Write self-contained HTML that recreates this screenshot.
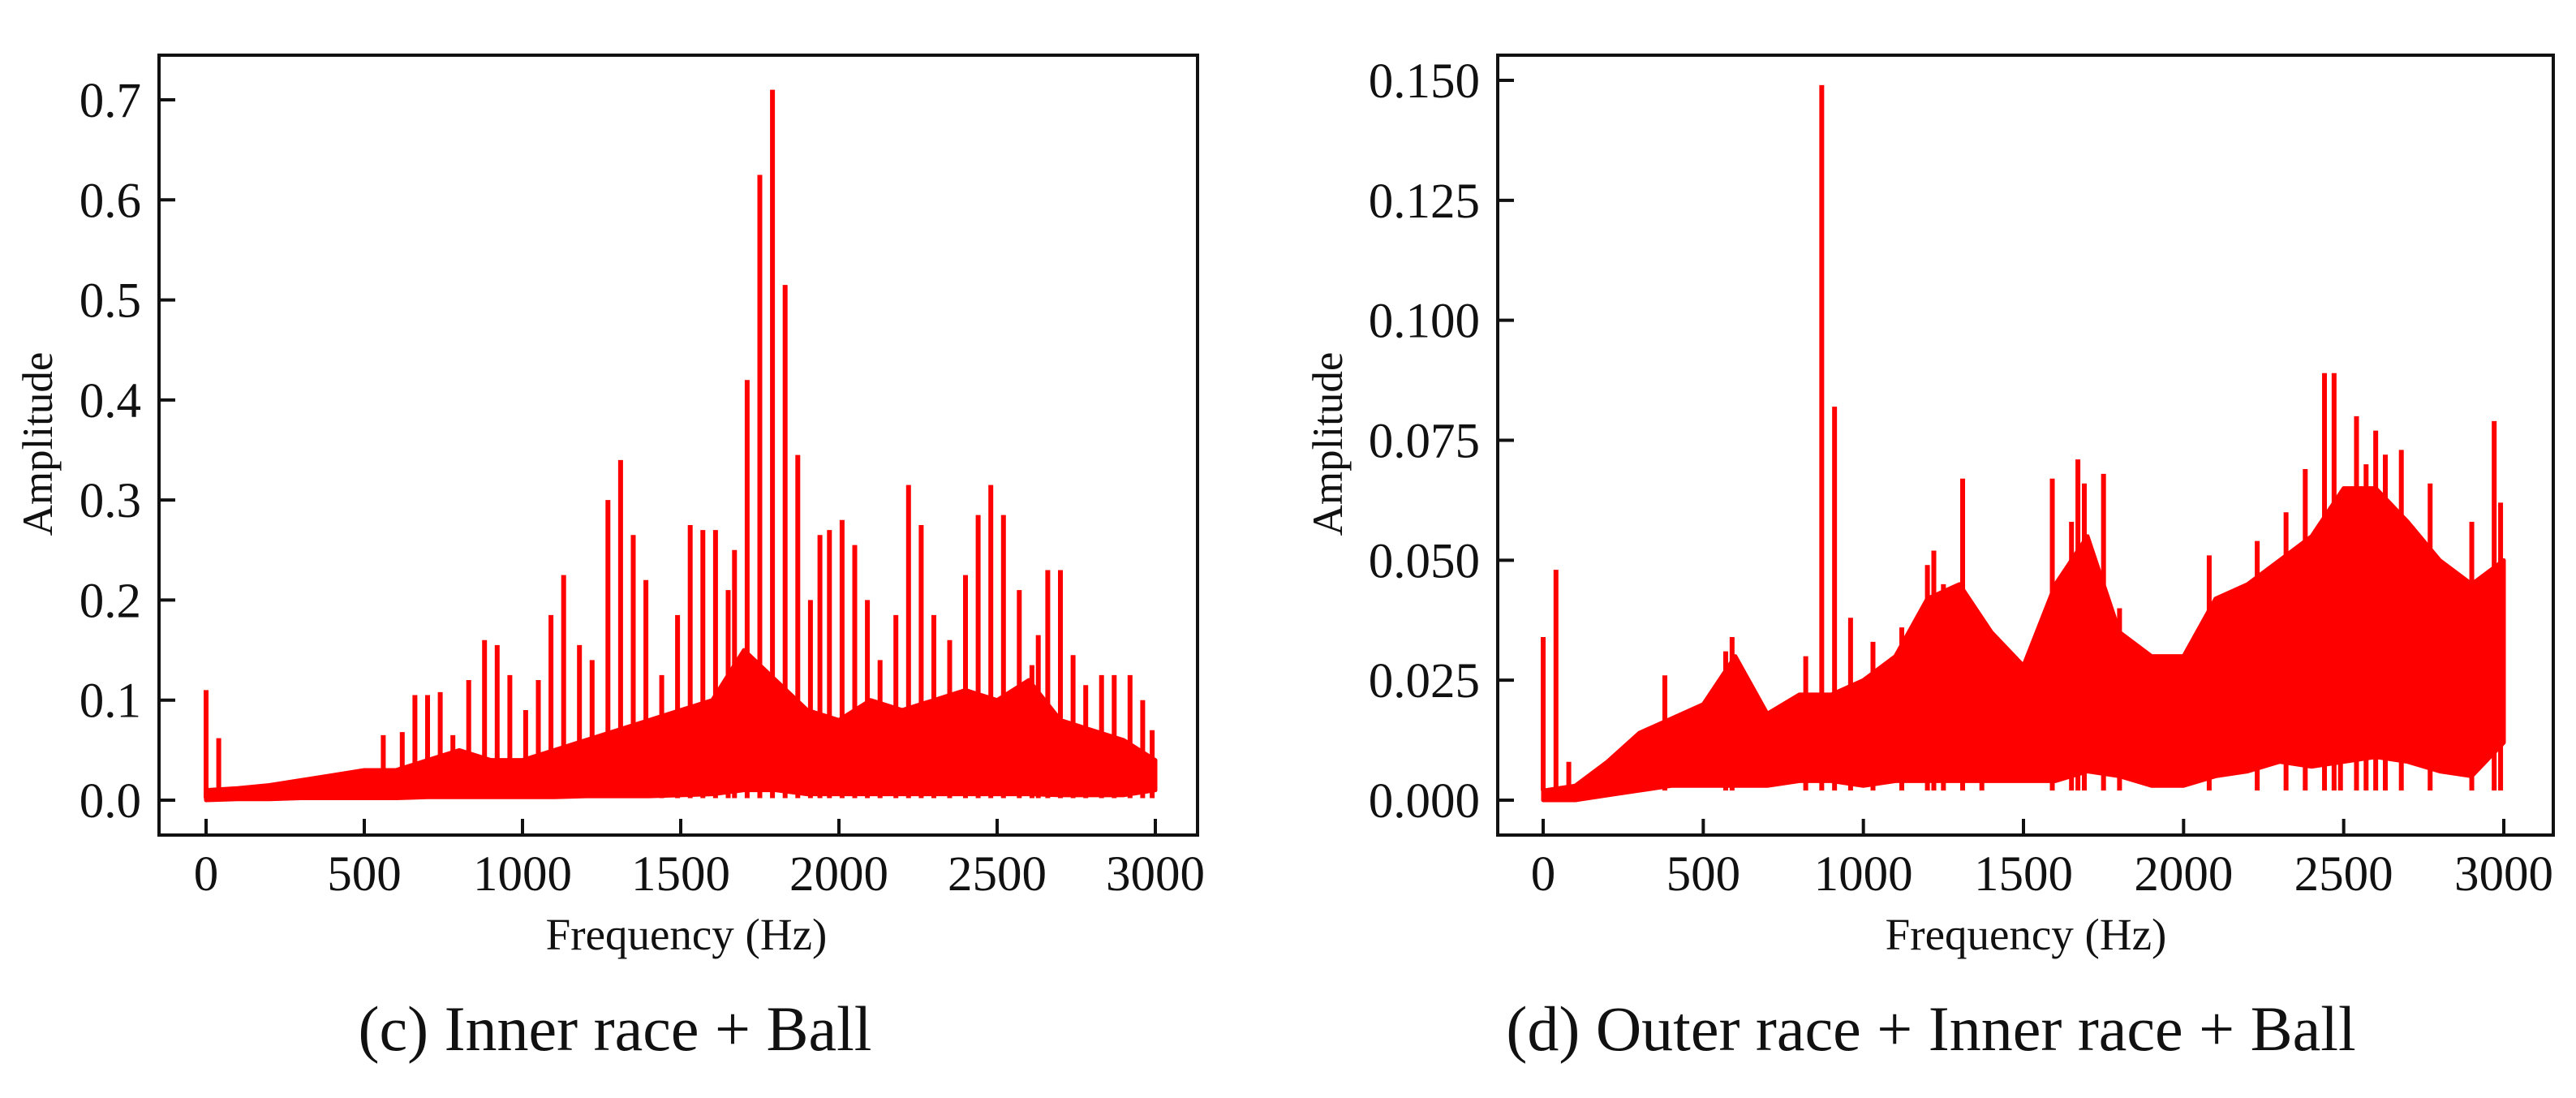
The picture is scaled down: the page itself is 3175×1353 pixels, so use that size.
<!DOCTYPE html>
<html><head><meta charset="utf-8"><style>
html,body{margin:0;padding:0;background:#fff;}
svg{display:block;}
text{font-family:"Liberation Serif",serif;fill:#111;}
</style></head><body>
<svg id="fig" width="3175" height="1353" viewBox="0 0 3175 1353" xmlns="http://www.w3.org/2000/svg"></svg>
<script>
// ---- data: chart (c) ----
const envFreq = [0,100,200,300,400,500,600,700,800,900,1000,1100,1200,1300,1400,1500,1600,1700,1800,1900,2000,2100,2200,2300,2400,2500,2600,2700,2800,2900,3000];
const cUpper = [0.01,0.012,0.015,0.02,0.025,0.03,0.03,0.04,0.05,0.04,0.04,0.05,0.06,0.07,0.08,0.09,0.10,0.15,0.12,0.09,0.08,0.10,0.09,0.10,0.11,0.10,0.12,0.08,0.07,0.06,0.04];
const cLower = [0.0,0.001,0.001,0.002,0.002,0.002,0.002,0.003,0.003,0.003,0.003,0.003,0.004,0.004,0.004,0.005,0.006,0.01,0.01,0.006,0.006,0.006,0.006,0.006,0.006,0.006,0.006,0.005,0.005,0.005,0.01];
const cPeakFreq = [0,40,560,620,660,700,740,780,830,880,920,960,1010,1050,1090,1130,1180,1220,1270,1310,1350,1390,1440,1490,1530,1570,1610,1650,1670,1710,1750,1790,1830,1870,1910,1940,1970,2010,2050,2090,2130,2180,2220,2260,2300,2350,2400,2440,2480,2520,2570,2610,2630,2660,2700,2740,2780,2830,2870,2920,2960,2990];
const cPeakAmp = [0.11,0.062,0.065,0.068,0.105,0.105,0.108,0.065,0.12,0.16,0.155,0.125,0.09,0.12,0.185,0.225,0.155,0.14,0.3,0.34,0.265,0.22,0.125,0.185,0.275,0.27,0.27,0.21,0.25,0.42,0.625,0.71,0.515,0.345,0.2,0.265,0.27,0.28,0.255,0.2,0.14,0.185,0.315,0.275,0.185,0.16,0.225,0.285,0.315,0.285,0.21,0.135,0.165,0.23,0.23,0.145,0.115,0.125,0.125,0.125,0.1,0.07];
const cYTicks = [0,0.1,0.2,0.3,0.4,0.5,0.6,0.7];
const cYLabels = ["0.0","0.1","0.2","0.3","0.4","0.5","0.6","0.7"];
// ---- data: chart (d) ----
const dUpper = [0.002,0.003,0.008,0.014,0.017,0.02,0.03,0.018,0.022,0.022,0.025,0.03,0.042,0.045,0.035,0.028,0.045,0.055,0.035,0.03,0.03,0.042,0.045,0.05,0.055,0.065,0.065,0.058,0.05,0.045,0.05];
const dLower = [0,0,0.001,0.002,0.003,0.003,0.003,0.003,0.004,0.004,0.003,0.004,0.004,0.004,0.004,0.004,0.004,0.006,0.005,0.003,0.003,0.005,0.006,0.008,0.007,0.008,0.009,0.008,0.006,0.005,0.012];
const dPeakFreq = [0,40,80,380,570,590,820,870,910,960,1030,1120,1200,1220,1250,1310,1370,1590,1650,1670,1690,1750,1800,2080,2230,2320,2380,2440,2470,2490,2540,2570,2600,2630,2680,2770,2900,2970,2990];
const dPeakAmp = [0.034,0.048,0.008,0.026,0.031,0.034,0.03,0.149,0.082,0.038,0.033,0.036,0.049,0.052,0.045,0.067,0.038,0.067,0.058,0.071,0.066,0.068,0.04,0.051,0.054,0.06,0.069,0.089,0.089,0.06,0.08,0.07,0.077,0.072,0.073,0.066,0.058,0.079,0.062];
const dYTicks = [0,0.025,0.05,0.075,0.1,0.125,0.15];
const dYLabels = ["0.000","0.025","0.050","0.075","0.100","0.125","0.150"];
const xTicks = [0,500,1000,1500,2000,2500,3000];

const NS="http://www.w3.org/2000/svg";
const svg=document.getElementById('fig');
function mk(tag,attrs,parent){const e=document.createElementNS(NS,tag);for(const k in attrs)e.setAttribute(k,attrs[k]);(parent||svg).appendChild(e);return e;}

function chart(o){
  const g=mk('g',{});
  
  
  const x=f=>o.x0+(f/3000)*(o.x3000-o.x0);
  const y=v=>o.y0-(v/o.ymax)*(o.y0-o.ytop);
  let pts=[];
  for(let i=0;i<envFreq.length;i++)pts.push(x(envFreq[i])+','+y(o.upper[i]));
  for(let i=envFreq.length-1;i>=0;i--)pts.push(x(envFreq[i])+','+y(o.lower[i]));
  const band=mk('polygon',{points:pts.join(' '),fill:'#ff0000',stroke:'#ff0000','stroke-width':5,'stroke-linejoin':'round'},g);
  
  
  for(let i=0;i<o.pf.length;i++){
    const ln=mk('line',{x1:x(o.pf[i]),x2:x(o.pf[i]),y1:y(0.002),y2:y(o.pa[i]),stroke:'#ff0000','stroke-width':6},g);
    
    
  }
  const box=mk('rect',{x:o.bx1,y:o.by1,width:o.bx2-o.bx1,height:o.by2-o.by1,fill:'none',stroke:'#111','stroke-width':4},g);
  
  
  for(let i=0;i<o.yt.length;i++){
    const yy=y(o.yt[i]);
    mk('line',{x1:o.bx1,x2:o.bx1+20,y1:yy,y2:yy,stroke:'#111','stroke-width':4},g);
    const t=mk('text',{x:o.bx1-22,y:yy+21,'text-anchor':'end','font-size':61},g);
    t.textContent=o.yl[i];
    
    
  }
  for(let i=0;i<xTicks.length;i++){
    const xx=x(xTicks[i]);
    mk('line',{x1:xx,x2:xx,y1:o.by2,y2:o.by2-20,stroke:'#111','stroke-width':4},g);
    const t=mk('text',{x:xx,y:1097,'text-anchor':'middle','font-size':61},g);
    t.textContent=String(xTicks[i]);
    
    
  }
  const xt=mk('text',{x:o.xlab,y:1170,'text-anchor':'middle','font-size':55},g);
  xt.textContent='Frequency (Hz)';
  
  
  const yt=mk('text',{x:0,y:0,'text-anchor':'middle','font-size':53,transform:'translate('+o.ylabx+',547) rotate(-90)'},g);
  yt.textContent='Amplitude';
  
  
  const cap=mk('text',{x:o.capx,y:1294,'text-anchor':'middle','font-size':78},g);
  cap.textContent=o.caption;
  
  
}
chart({name:'chart-inner-race-ball',x0:254,x3000:1424,y0:986,ytop:123,ymax:0.7,upper:cUpper,lower:cLower,pf:cPeakFreq,pa:cPeakAmp,yt:cYTicks,yl:cYLabels,bx1:196,bx2:1476,by1:68,by2:1029,xlab:846,ylabx:64,capx:758,caption:'(c) Inner race + Ball'});
chart({name:'chart-outer-inner-ball',x0:1902,x3000:3086,y0:986,ytop:99,ymax:0.15,upper:dUpper,lower:dLower,pf:dPeakFreq,pa:dPeakAmp,yt:dYTicks,yl:dYLabels,bx1:1846,bx2:3147,by1:68,by2:1029,xlab:2497,ylabx:1654,capx:2380,caption:'(d) Outer race + Inner race + Ball'});
</script>
</body></html>
